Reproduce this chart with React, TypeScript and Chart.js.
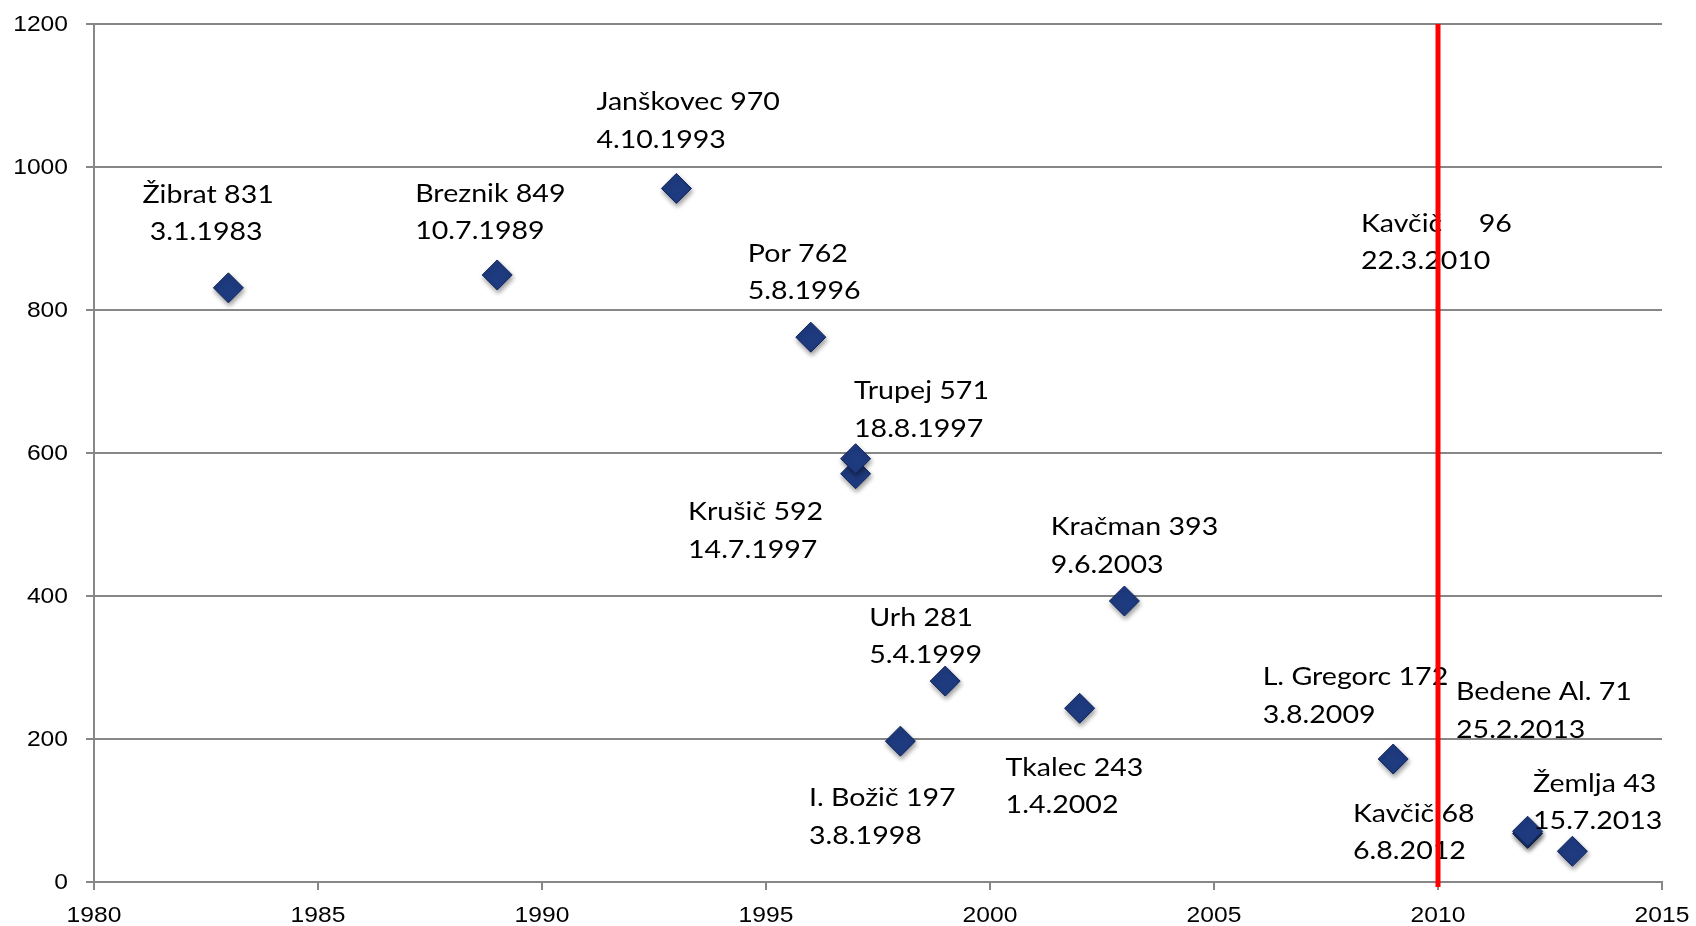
import React, { useEffect, useRef } from "react";
import { Chart, registerables } from "chart.js";

Chart.register(...registerables);

// ---- data ----
const years = [1983, 1989, 1993, 1996, 1997, 1997, 1998, 1999, 2002, 2003, 2009, 2010, 2012, 2012, 2013];
const ranks = [831, 849, 970, 762, 571, 592, 197, 281, 243, 393, 172, 96, 68, 71, 43];
const labelLine1 = [
  "Žibrat 831",
  "Breznik 849",
  "Janškovec 970",
  "Por 762",
  "Trupej 571",
  "Krušič 592",
  "I. Božič 197",
  "Urh 281",
  "Tkalec 243",
  "Kračman 393",
  "L. Gregorc 172",
  "Kavčič     96",
  "Kavčič 68",
  "Bedene Al. 71",
  "Žemlja 43",
];
const labelLine2 = [
  " 3.1.1983",
  "10.7.1989",
  "4.10.1993",
  "5.8.1996",
  "18.8.1997",
  "14.7.1997",
  "3.8.1998",
  "5.4.1999",
  "1.4.2002",
  "9.6.2003",
  "3.8.2009",
  "22.3.2010",
  "6.8.2012",
  "25.2.2013",
  "15.7.2013",
];
const pointVisible = [true, true, true, true, true, true, true, true, true, true, true, false, true, true, true];
const redLineX = [2010, 2010];
const redLineY = [-7, 1200];
const xTicks = [1980, 1985, 1990, 1995, 2000, 2005, 2010, 2015];
const yTicks = [0, 200, 400, 600, 800, 1000, 1200];

// ---- layout (pixel offsets of label, first-line baseline left, relative to point) ----
const labelOffsets: [number, number][] = [
  [-86, -85],
  [-82, -73],
  [-80, -78],
  [-63, -75.5],
  [-1.6, -74.7],
  [-167.6, 61.3],
  [-91.4, 65],
  [-76, -55.4],
  [-74, 67.7],
  [-73.7, -66],
  [-130.5, -74],
  [-77, -581.7],
  [-174.6, -11.7],
  [-71.6, -131],
  [-39.4, -59.6],
];

const GRID = "#878787";
const SX = 1.12;
const LABEL_FONT = '25.5px Lato, "Noto Sans", sans-serif';
const TICK_FONT = '22px "Liberation Sans", Arial, sans-serif';

function drawText(ctx: CanvasRenderingContext2D, text: string, x: number, y: number, align: CanvasTextAlign, baseline: CanvasTextBaseline, font: string) {
  ctx.save();
  ctx.translate(x, y);
  ctx.scale(SX, 1);
  ctx.font = font;
  ctx.fillStyle = "#000000";
  ctx.textAlign = align;
  ctx.textBaseline = baseline;
  ctx.fillText(text, 0, 0);
  ctx.restore();
}

const textPlugin = {
  id: "textPlugin",
  beforeDatasetDraw(chart: any, args: any) {
    if (args.index === 0) {
      const ctx = chart.ctx;
      ctx.save();
      ctx.shadowColor = "rgba(0,0,0,0.4)";
      ctx.shadowBlur = 5;
      ctx.shadowOffsetX = 1;
      ctx.shadowOffsetY = 3;
    }
  },
  afterDatasetDraw(chart: any, args: any) {
    if (args.index !== 0) return;
    const ctx = chart.ctx;
    ctx.restore();
    const xs = chart.scales.x;
    const ys = chart.scales.y;
    years.forEach((yr, i) => {
      const px = xs.getPixelForValue(yr);
      const py = ys.getPixelForValue(ranks[i]);
      const [dx, dy] = labelOffsets[i];
      drawText(ctx, labelLine1[i], px + dx, py + dy, "left", "alphabetic", LABEL_FONT);
      drawText(ctx, labelLine2[i], px + dx, py + dy + 37.5, "left", "alphabetic", LABEL_FONT);
    });
  },
  afterDraw(chart: any) {
    const ctx = chart.ctx;
    const xs = chart.scales.x;
    const ys = chart.scales.y;
    const area = chart.chartArea;
    yTicks.forEach((v) => {
      drawText(ctx, String(v), area.left - 26, ys.getPixelForValue(v) + 0.5, "right", "middle", TICK_FONT);
    });
    xTicks.forEach((v) => {
      drawText(ctx, String(v), xs.getPixelForValue(v), area.bottom + 40, "center", "alphabetic", TICK_FONT);
    });
  },
};

export default function App() {
  const ref = useRef<HTMLCanvasElement | null>(null);
  useEffect(() => {
    if (!ref.current) return;
    const chart = new Chart(ref.current, {
      type: "scatter",
      data: {
        datasets: [
          {
            type: "scatter",
            data: years.map((x, i) => ({ x, y: ranks[i] })),
            pointStyle: "rectRot",
            pointRadius: pointVisible.map((v) => (v ? 15 : 0)),
            pointHoverRadius: pointVisible.map((v) => (v ? 15 : 0)),
            backgroundColor: "#1F3B80",
            borderColor: "#10245A",
            borderWidth: 1,
            order: 2,
          } as any,
          {
            type: "line",
            data: redLineX.map((x, i) => ({ x, y: redLineY[i] })),
            borderColor: "#FF0000",
            borderWidth: 5,
            pointRadius: 0,
            showLine: true,
            clip: false,
            order: 1,
          } as any,
        ],
      },
      options: {
        animation: false,
        responsive: false,
        devicePixelRatio: 1,
        layout: { padding: { left: 86, right: 34, top: 24, bottom: 36 } },
        plugins: { legend: { display: false }, tooltip: { enabled: false } },
        events: [],
        scales: {
          x: {
            type: "linear",
            min: 1980,
            max: 2015,
            ticks: { stepSize: 5, display: false },
            grid: { drawOnChartArea: false, drawTicks: true, tickLength: 8, color: GRID, lineWidth: 2 },
            border: { color: GRID, width: 2 },
          },
          y: {
            type: "linear",
            min: 0,
            max: 1200,
            ticks: { stepSize: 200, display: false },
            grid: { drawTicks: true, tickLength: 8, color: GRID, lineWidth: 2 },
            border: { color: GRID, width: 2 },
          },
        },
      },
      plugins: [textPlugin],
    });
    return () => chart.destroy();
  }, []);
  return (
    <div style={{ position: "fixed", left: 0, top: 0, width: 1696, height: 926, background: "#fff" }}>
      <canvas ref={ref} width={1696} height={926} style={{ display: "block" }} />
    </div>
  );
}
